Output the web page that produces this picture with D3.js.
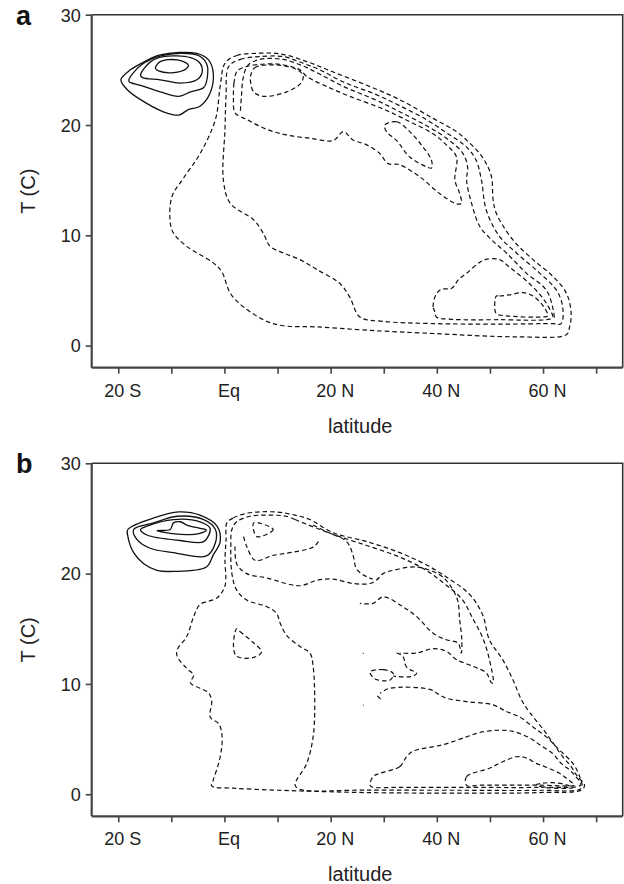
<!DOCTYPE html>
<html><head><meta charset="utf-8">
<script src="https://cdn.jsdelivr.net/npm/d3@7"></script>
<style>body{margin:0;background:#fff}svg{display:block}</style>
</head><body>
<script>
// ---------- axis data ----------
const latTicks = [-20,-10,0,10,20,30,40,50,60,70];
const latLabels = {"-20":"20 S","0":"Eq","20":"20 N","40":"40 N","60":"60 N"};
const tTicks = [0,10,20,30];
const latDomain = [-25,75];
const tDomain = [-2,30];

// ---------- panel a contours (lat, T) ----------
const aSolid1 = [[-19.5,24.1],[-17.7,25.0],[-15.2,25.7],[-12.1,26.35],[-5.2,26.5],[-3.0,25.9],[-2.1,24.7],[-2.7,22.9],[-4.6,21.7],[-6.8,21.4],[-8.6,20.9],[-11.5,21.2],[-15.8,22.3],[-18.3,23.2]];
const aSolid2 = [[-18.0,24.1],[-15.8,25.4],[-11.8,26.3],[-5.2,26.35],[-3.4,25.6],[-3.2,24.4],[-3.9,23.4],[-6.4,23.0],[-8.6,22.6],[-12.1,23.0],[-15.8,23.6],[-17.9,23.9]];
const aSolid3 = [[-15.8,24.5],[-14.0,25.7],[-11.5,26.2],[-6.4,26.1],[-4.6,25.6],[-4.2,24.8],[-5.2,24.1],[-8.3,23.8],[-12.1,24.1],[-15.4,24.3]];
const aSolid4 = [[-13.0,25.15],[-12.1,25.75],[-8.9,25.9],[-6.8,25.45],[-7.2,25.1],[-9.6,24.75],[-12.4,24.9]];

const aDash1 = [[0.1,25.6],[2.3,26.3],[6.1,26.5],[10.5,26.45],[15.5,25.75],[20.5,24.8],[26.8,23.6],[33.0,22.3],[39.3,20.6],[43.7,19.4],[46.2,18.35],[48.1,17.4],[49.3,16.5],[50.3,15.3],[50.6,13.2],[51.2,12.0],[54.3,9.6],[58.1,7.8],[61.8,6.3],[64.4,4.75],[65.3,2.9],[65.0,1.7],[64.4,1.0],[55.0,0.8],[39.3,1.1],[26.8,1.4],[17.4,1.7],[11.1,1.8],[8.0,2.2],[3.6,3.5],[1.1,4.75],[-0.5,6.7],[-2.1,7.5],[-7.1,9.0],[-9.6,10.2],[-10.2,11.1],[-9.9,13.5],[-7.7,15.2],[-4.6,17.4],[-1.7,20.5],[-0.8,23.5]];
const aDash2 = [[0.8,25.3],[3.0,25.95],[6.7,26.2],[11.1,26.2],[14.8,25.6],[18.0,25.0],[22.4,23.9],[28.6,22.75],[33.0,21.75],[38.0,20.5],[41.8,19.3],[45.6,18.0],[47.4,16.8],[48.4,15.0],[49.3,12.3],[51.8,9.9],[55.0,8.4],[59.3,6.6],[62.5,5.05],[63.7,3.5],[63.4,2.0],[61.8,2.0],[51.8,1.95],[39.3,2.0],[29.9,2.2],[25.5,2.6],[23.6,4.4],[21.7,5.65],[17.4,6.9],[14.2,7.8],[11.1,8.4],[8.6,9.0],[7.3,10.2],[5.5,11.4],[1.1,12.9],[-0.2,15.0],[0.1,19.6],[0.3,22.6]];
const aDash3 = [[2.4,24.9],[1.8,23.8],[1.7,22.6],[2.0,21.1],[4.2,20.5],[8.0,19.6],[11.7,19.1],[16.1,18.8],[20.5,18.6],[22.4,19.4],[24.2,18.65],[26.8,18.2],[29.3,17.4],[30.8,16.5],[33.0,16.4],[36.8,15.3],[40.5,13.8],[43.7,12.85],[44.6,12.9],[44.3,13.8],[43.4,15.0],[43.7,17.1],[41.8,18.2],[39.3,19.2],[34.9,20.3],[29.9,21.45],[23.6,22.6],[19.2,23.5],[15.5,24.4],[14.2,25.0],[10.5,25.5],[6.7,25.5],[4.2,25.3]];
const aDashX = [[3.0,21.3],[3.2,22.6],[3.5,24.2],[4.4,25.4],[6.7,25.95],[11.0,25.95],[14.8,25.35],[18.0,24.6],[22.4,23.5],[28.6,22.25],[33.0,21.2],[38.0,19.95],[41.8,18.8],[44.8,17.5],[45.8,16.2],[45.6,15.0],[46.6,12.8],[48.1,10.8],[50.3,9.6],[53.1,8.4],[56.8,6.6],[60.6,5.05],[61.8,3.5],[62.2,2.3]];
const aDash4 = [[5.0,24.6],[5.7,25.2],[9.3,25.45],[13.3,25.1],[14.8,24.5],[14.4,23.8],[11.7,23.0],[7.3,22.6],[5.5,23.0],[4.9,24.0]];
const aDash5 = [[30.2,20.0],[32.4,20.3],[34.9,19.4],[37.4,18.0],[39.0,16.8],[39.0,16.1],[38.1,16.2],[34.9,17.1],[32.4,18.6],[30.5,19.4]];
const aDash6 = [[39.6,3.1],[39.3,3.5],[39.8,4.6],[40.8,5.1],[42.8,5.2],[44.1,6.0],[45.7,6.6],[47.9,7.5],[49.1,7.8],[51.8,7.8],[53.7,7.1],[56.8,5.9],[59.3,4.7],[60.8,3.7],[61.8,2.6],[61.2,2.4],[51.8,2.35],[42.4,2.4],[39.9,2.6]];
const aDash7 = [[51.2,4.5],[51.8,4.5],[53.7,4.6],[56.2,4.8],[58.1,4.5],[60.0,3.6],[60.9,2.7],[60.0,2.6],[53.1,2.7],[51.2,2.9],[50.9,3.4]];

// ---------- panel b contours (lat, T) ----------
const bSolid1 = [[-18.2,24.0],[-13.0,25.1],[-8.6,25.6],[-4.6,25.3],[-1.4,24.3],[-0.8,22.9],[-2.1,21.7],[-3.4,20.6],[-9.6,20.2],[-12.7,20.3],[-15.2,20.9],[-17.1,21.9],[-18.2,23.4]];
const bSolid2 = [[-17.1,24.0],[-13.3,24.6],[-8.9,25.2],[-3.9,24.9],[-1.7,24.0],[-1.7,22.8],[-3.4,21.6],[-9.6,21.9],[-14.0,22.3],[-16.5,23.1]];
const bSolid3 = [[-15.8,24.0],[-14.6,24.3],[-9.6,24.9],[-4.6,24.7],[-2.7,24.1],[-3.9,22.9],[-8.3,23.0],[-14.6,23.5]];
const bSolid4 = [[-12.7,23.9],[-10.2,24.0],[-9.6,24.6],[-8.3,24.7],[-7.1,24.4],[-4.6,24.1],[-3.4,23.95],[-4.6,23.65],[-8.3,23.55],[-12.1,23.8]];

const bDash1 = [[0.45,24.6],[1.7,25.05],[3.6,25.4],[6.7,25.6],[10.5,25.55],[13.3,25.3],[16.1,24.9],[20.5,23.7],[26.8,22.9],[33.0,21.9],[38.0,20.8],[42.4,19.5],[46.2,18.1],[48.6,16.3],[49.9,14.0],[52.4,12.2],[54.3,10.4],[56.0,8.5],[57.5,7.4],[60.0,5.9],[61.8,4.7],[63.7,3.4],[65.3,2.5],[66.5,1.6],[67.8,0.85],[67.3,0.4],[59.3,0.15],[45.6,0.1],[26.8,0.15],[14.2,0.3],[8.0,0.4],[1.7,0.55],[-2.4,0.75],[-2.1,1.3],[-1.1,2.8],[-0.5,4.3],[-0.5,5.5],[-1.1,6.4],[-2.7,7.0],[-2.4,8.4],[-3.0,9.2],[-4.6,9.6],[-6.4,10.1],[-5.8,10.8],[-7.1,11.4],[-8.9,12.5],[-8.9,13.1],[-7.1,14.3],[-5.8,16.1],[-4.6,17.2],[-1.4,17.8],[0.1,18.9],[0.1,21.3],[0.3,23.1]];
const bDash2 = [[13.3,24.9],[11.7,25.2],[8.0,25.3],[4.8,25.2],[2.3,24.7],[1.4,24.0],[1.2,22.45],[1.4,20.0],[2.3,18.5],[4.2,17.6],[8.0,17.0],[9.8,16.4],[10.5,15.5],[11.7,14.4],[14.2,13.4],[16.1,12.8],[16.7,11.6],[17.0,8.25],[16.7,5.2],[15.5,2.8],[13.3,0.85],[14.2,0.45],[26.8,0.38],[45.6,0.36],[59.3,0.36],[67.2,0.55],[66.9,1.6],[65.6,2.8],[63.1,4.0],[60.6,5.2],[58.1,6.1],[55.6,7.0],[53.1,7.5],[50.6,8.1],[45.6,8.4],[41.8,8.7],[40.5,9.0],[38.7,9.5],[31.1,9.6],[29.3,9.15]];
const bDash3 = [[13.3,24.9],[18.0,24.0],[21.7,23.35],[26.8,22.55],[33.0,21.5],[38.0,20.3],[41.5,19.05],[44.7,17.7],[46.8,15.9],[48.7,14.1],[49.9,12.2],[50.6,10.1],[50.3,10.1],[49.3,11.0],[46.8,11.6],[43.7,12.2],[41.8,12.95],[39.3,13.2],[36.2,12.8],[33.0,12.8]];
const bDash4 = [[2.0,22.45],[2.3,20.9],[4.2,20.0],[8.0,19.6],[14.2,18.9],[17.4,19.4],[20.5,19.5],[24.2,19.1],[27.4,19.1],[28.6,19.4],[29.9,20.0],[31.8,20.3],[36.2,20.6],[40.5,19.9],[42.4,19.0],[43.9,17.6],[44.3,15.8],[44.7,14.0],[44.6,12.8],[44.0,13.7],[41.8,14.0],[39.3,14.6],[36.2,16.1],[33.6,17.0],[29.9,17.9],[28.0,17.3],[25.5,17.3]];
const bDash5 = [[16.7,24.4],[19.2,23.8],[23.0,22.9],[24.2,21.7],[24.8,20.5],[26.1,19.9],[27.9,19.5]];
const bDash6 = [[5.5,24.6],[9.2,24.0],[6.1,23.35]];
const bDash7 = [[3.6,23.35],[4.2,22.45],[5.8,21.2],[9.2,21.65],[13.0,21.95],[16.7,22.4],[17.7,22.9]];
const bDash8 = [[2.3,15.0],[2.9,14.75],[5.3,13.8],[7.0,12.9],[5.5,12.4],[2.3,12.5],[1.7,13.4]];
const bDash9 = [[29.3,1.9],[33.0,2.5],[34.3,3.4],[35.5,3.9],[41.2,4.5],[45.6,5.2],[48.1,5.6],[51.8,5.8],[54.3,5.7],[57.5,5.1],[59.3,4.5],[61.8,3.7],[63.4,2.8],[65.0,2.2],[66.2,1.6],[67.1,0.85],[59.3,0.63],[45.6,0.63],[33.0,0.63],[27.8,0.66],[27.4,0.85],[28.0,1.6]];
const bDash10 = [[45.6,0.8],[45.6,1.6],[49.9,2.35],[52.4,2.95],[55.0,3.4],[56.8,3.3],[58.7,2.8],[60.6,2.45],[63.1,1.9],[64.4,1.45],[65.6,1.0],[65.9,0.82],[59.3,0.82],[48.1,0.82]];
const bDash11 = [[58.7,0.85],[60.0,1.0],[61.8,1.05],[64.4,0.85],[65.6,0.6],[60.3,0.62]];
const bDash12 = [[27.4,11.1],[29.9,11.3],[31.8,10.95],[31.2,10.35],[28.6,10.4],[27.7,10.75]];
const bDash13 = [[32.4,12.8],[33.6,12.5],[34.2,11.6],[34.9,11.3],[36.2,11.0],[35.5,10.7],[31.8,10.7]];
const bDash14 = [[28.8,8.9],[29.7,8.5]];
const bDash15 = [[26.1,12.8],[26.2,12.75]];
const bDash16 = [[26.1,8.1],[26.2,8.05]];

const panels = [
  {letter:"a", top:14.7, solids:[aSolid1,aSolid2,aSolid3,aSolid4],
   closed:[aDash1,aDash2,aDash3,aDash4,aDash5,aDash6,aDash7], open:[aDashX]},
  {letter:"b", top:463.3, solids:[bSolid1,bSolid2,bSolid3,bSolid4],
   closed:[bDash1,bDash6,bDash8,bDash9,bDash10,bDash11,bDash12], open:[bDash2,bDash3,bDash4,bDash5,bDash7,bDash13,bDash14,bDash15,bDash16]}
];

const W = 624, H = 884;
const svg = d3.select("body").append("svg").attr("width",W).attr("height",H)
  .style("font-family","'Liberation Sans', Arial, Helvetica, sans-serif");

const left = 91.7, right = 622.7, plotH = 353;
const x = d3.scaleLinear().domain(latDomain).range([left,right]);

panels.forEach((p,i)=>{
  const top = p.top, bottom = top + plotH;
  const y = d3.scaleLinear().domain(tDomain).range([bottom, top]);
  const g = svg.append("g");
  const clipId = "clip"+i;
  g.append("clipPath").attr("id",clipId).append("rect")
    .attr("x",left).attr("y",top).attr("width",right-left).attr("height",plotH);

  const closed = d3.line().x(d=>x(d[0])).y(d=>y(d[1])).curve(d3.curveCatmullRomClosed.alpha(0.5));
  const open = d3.line().x(d=>x(d[0])).y(d=>y(d[1])).curve(d3.curveCatmullRom.alpha(0.5));
  const cg = g.append("g").attr("clip-path",`url(#${clipId})`);
  p.solids.forEach(c=>cg.append("path").attr("d",closed(c)).attr("fill","none").attr("stroke","#111").attr("stroke-width",1.3));
  p.closed.forEach(c=>cg.append("path").attr("d",closed(c)).attr("fill","none").attr("stroke","#111").attr("stroke-width",1.2).attr("stroke-dasharray","4.5,3"));
  p.open.forEach(c=>cg.append("path").attr("d",open(c)).attr("fill","none").attr("stroke","#111").attr("stroke-width",1.2).attr("stroke-dasharray","4.5,3"));

  g.append("path").attr("d",`M${left},${top}H${right}V${bottom}`).attr("fill","none").attr("stroke","#333").attr("stroke-width",1.6);

  const xa = g.append("g").attr("transform",`translate(0,${bottom})`)
    .call(d3.axisBottom(x).tickValues(latTicks).tickSize(6).tickSizeOuter(0).tickFormat(d=>latLabels[d]||""));
  const ya = g.append("g").attr("transform",`translate(${left},0)`)
    .call(d3.axisLeft(y).tickValues(tTicks).tickSize(6).tickSizeOuter(0));
  [xa,ya].forEach(a=>{
    a.select(".domain").attr("stroke","#444").attr("stroke-width",2.2);
    a.selectAll(".tick line").attr("stroke","#444").attr("stroke-width",1.6);
    a.selectAll("text").attr("fill","#222").style("font-size","18px").style("font-family","'Liberation Sans', Arial, sans-serif");
  });
  xa.select(".domain").attr("d",`M${left},0H${right}`);
  ya.select(".domain").attr("d",`M0,${bottom}V${top}`);
  xa.selectAll("text").attr("dy",null).attr("y",29).attr("dx",4);
  ya.selectAll("text").attr("x",-11).attr("dy","0.35em");

  g.append("text").attr("x",(left+right)/2+3).attr("y",bottom+65).attr("text-anchor","middle")
    .style("font-size","20px").attr("fill","#222").text("latitude");
  g.append("text").attr("transform",`translate(35,${(top+bottom)/2}) rotate(-90)`).attr("text-anchor","middle")
    .style("font-size","20px").attr("fill","#222").text("T (C)");
  g.append("text").attr("x",16).attr("y",top+10).style("font-size","27px").style("font-weight","bold").attr("fill","#111").text(p.letter);
});
</script>
</body></html>
